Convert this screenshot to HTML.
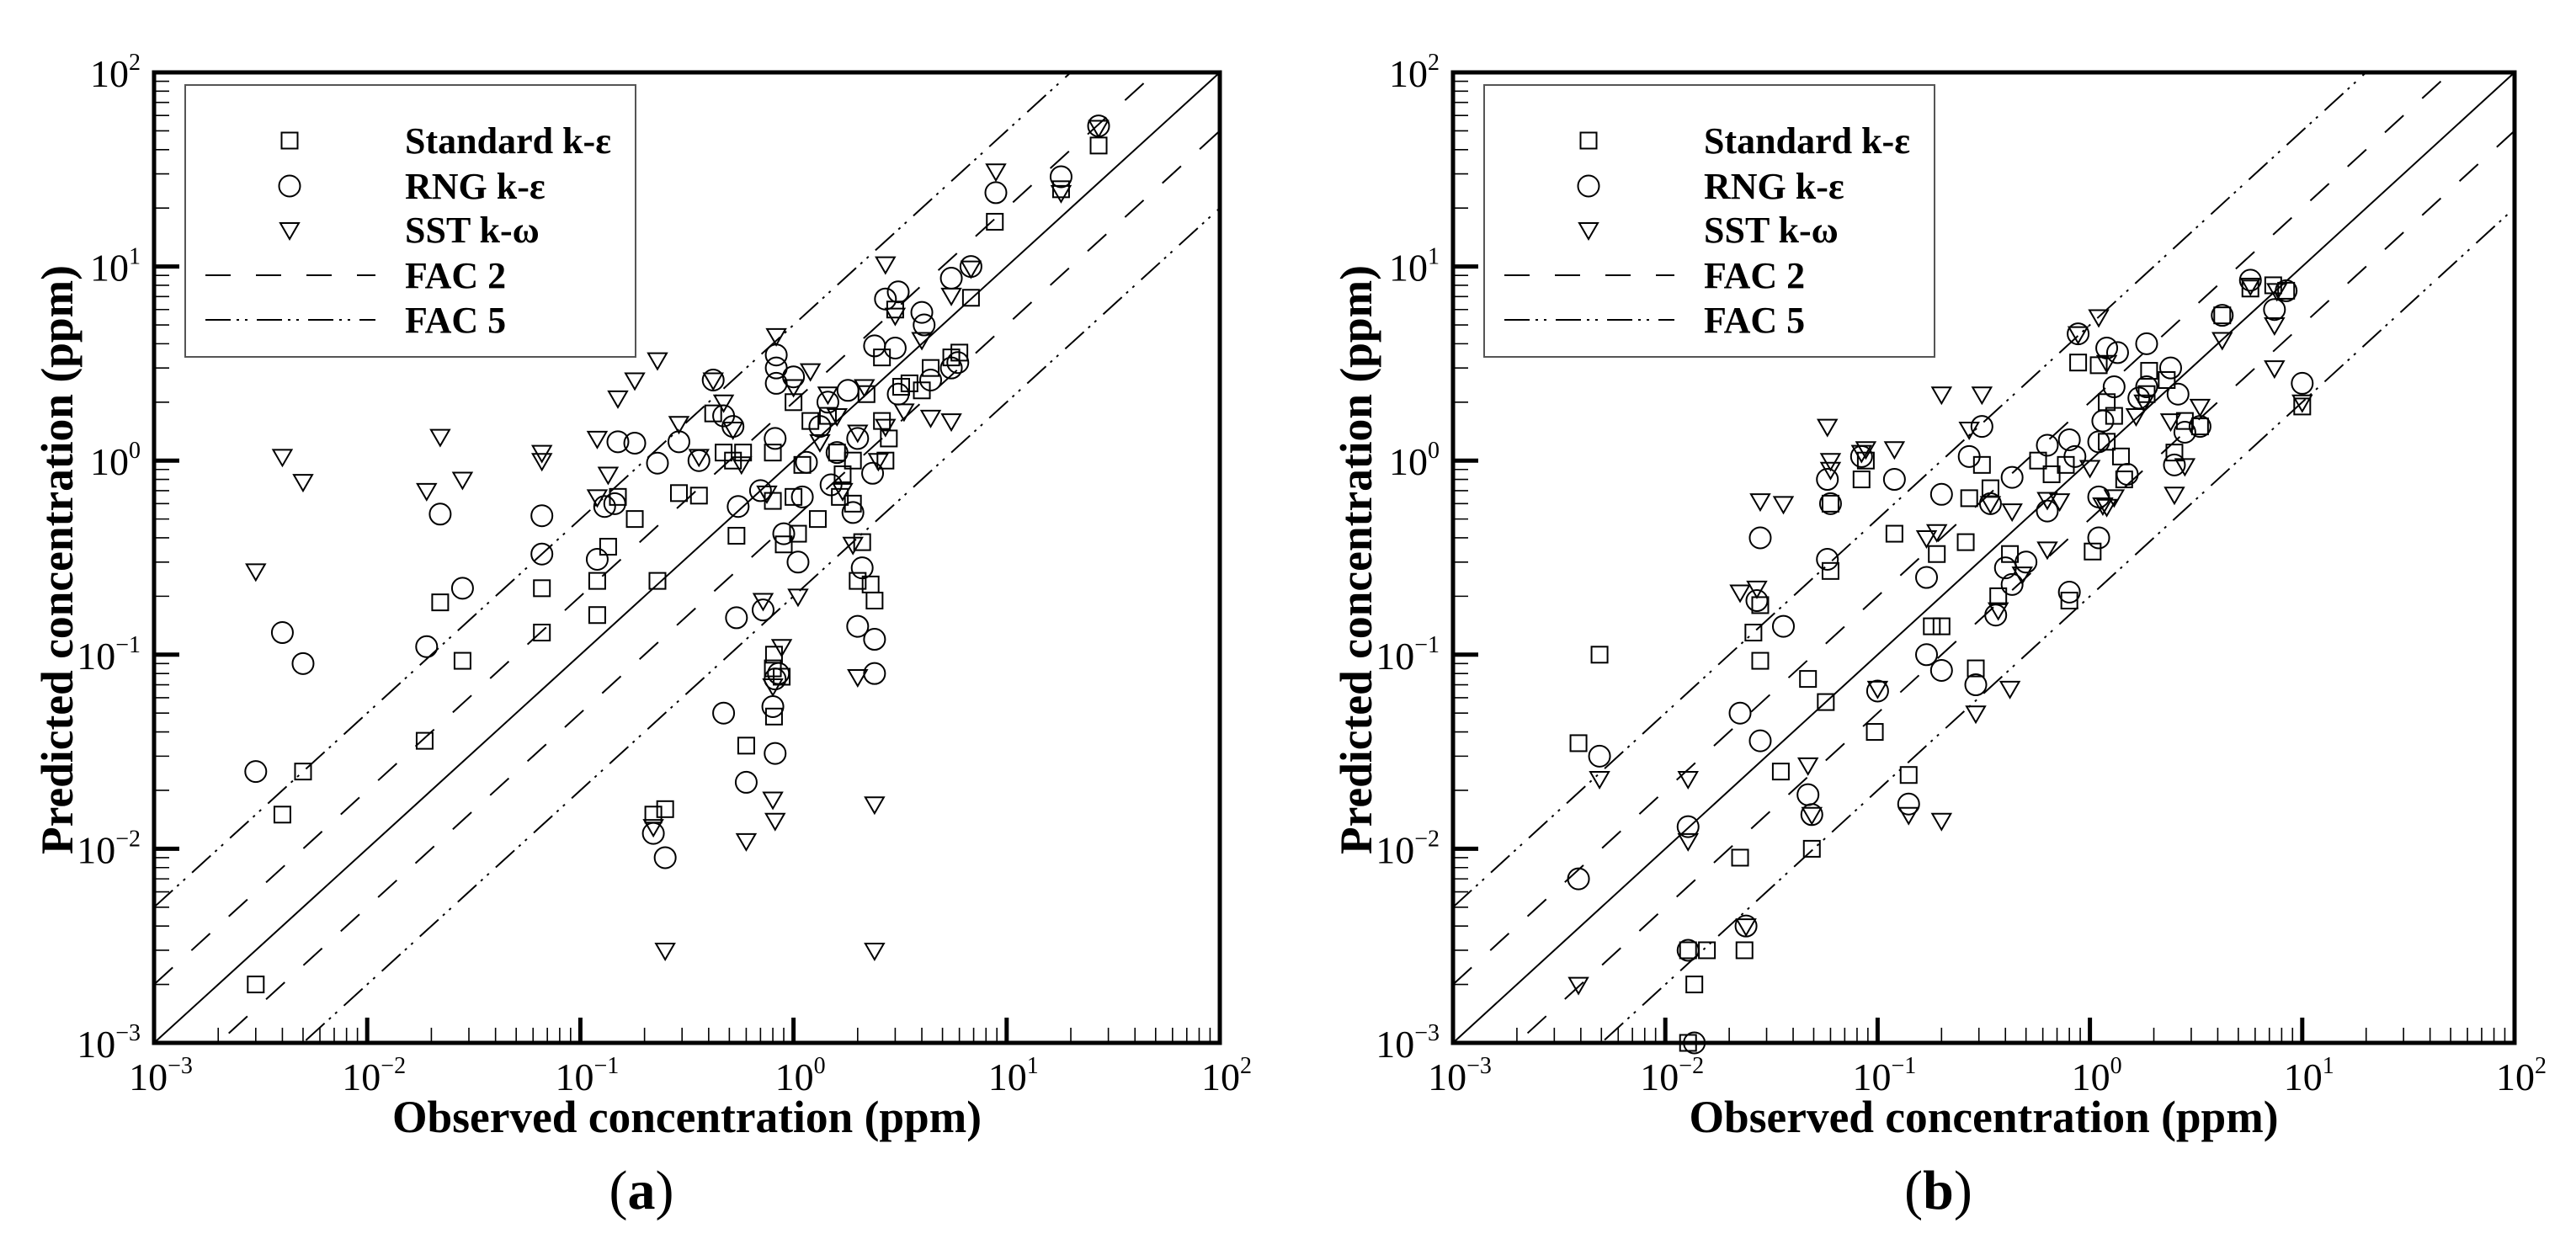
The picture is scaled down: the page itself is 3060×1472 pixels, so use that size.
<!DOCTYPE html>
<html>
<head>
<meta charset="utf-8">
<style>
html,body{margin:0;padding:0;background:#fff;}
svg{display:block;font-family:"Liberation Serif","Times New Roman",serif;}
svg text{font-family:"Liberation Serif","Times New Roman",serif;fill:#000;}
</style>
</head>
<body>
<svg id="fig" width="3060" height="1472" viewBox="0 0 3060 1472" xmlns="http://www.w3.org/2000/svg" font-family="Liberation Serif, Times New Roman, serif">
<rect x="0" y="0" width="3060" height="1472" fill="#fff"/>
</svg>
<script>
// ---- Panel (a) data ----
const aStdX = [0.003,0.004,0.005,0.0186,0.022,0.028,0.066,0.066,0.12,0.12,0.135,0.15,0.18,0.23,0.29,0.36,0.42,0.47,0.52,0.54,0.58,0.8,0.8,0.8,0.81,0.81,0.88,0.6,0.22,0.25,0.9,1.0,1.0,1.05,1.1,1.3,1.2,1.45,1.6,1.7,1.65,1.9,2.1,2.0,2.3,2.4,2.2,2.6,2.6,2.7,3.2,3.5,3.0,4.0,4.4,5.5,6.0,6.8,8.8,27,18,2.8,1.9];
const aStdY = [0.002,0.015,0.025,0.036,0.186,0.093,0.13,0.22,0.16,0.24,0.36,0.65,0.5,0.24,0.68,0.66,1.75,1.1,1.0,0.41,1.1,0.62,1.1,0.085,0.1,0.048,0.077,0.034,0.015,0.016,0.37,2.0,0.65,0.42,0.95,0.5,1.6,1.7,1.1,0.85,0.65,0.6,0.38,0.24,0.23,0.19,2.2,3.4,1.6,1.0,2.4,2.5,6.0,2.3,3.0,3.4,3.6,6.9,17,42,25,1.3,1.0];
const aRngX = [0.003,0.004,0.005,0.022,0.028,0.019,0.066,0.066,0.12,0.13,0.145,0.15,0.18,0.23,0.29,0.36,0.42,0.47,0.52,0.55,0.47,0.54,0.6,0.72,0.8,0.82,0.82,0.85,0.83,0.83,0.83,0.82,1.0,0.9,1.05,1.15,1.33,1.45,1.6,1.8,2.0,1.9,2.1,2.0,2.4,2.4,2.35,2.7,3.1,3.0,4.0,4.1,4.4,5.5,5.5,5.9,6.8,8.9,18,27,0.25,0.22,2.4,3.1,0.7,1.1,1.5];
const aRngY = [0.025,0.13,0.09,0.53,0.22,0.11,0.52,0.33,0.31,0.58,0.6,1.25,1.23,0.97,1.25,1.0,2.6,1.7,1.5,0.58,0.05,0.155,0.022,0.17,0.054,0.031,0.075,0.08,3.5,3.0,2.5,1.3,2.7,0.42,0.3,0.98,1.5,2.0,1.1,2.3,1.3,0.54,0.28,0.14,0.12,0.08,0.86,6.8,7.4,3.8,5.8,5.0,2.6,8.7,3.0,3.2,10,24,29,53,0.009,0.012,3.9,2.2,0.7,0.65,0.75];
const aSstX = [0.003,0.004,0.005,0.019,0.022,0.028,0.066,0.066,0.12,0.12,0.135,0.15,0.18,0.23,0.29,0.36,0.42,0.47,0.52,0.57,0.72,0.8,0.82,0.6,0.8,0.88,0.83,0.75,1.0,1.05,1.2,1.33,1.45,1.7,1.9,2.0,2.15,2.4,2.4,0.25,0.22,2.5,2.7,2.7,3.0,3.3,4.0,4.4,5.5,5.5,6.8,8.9,18,27,2.0,1.6];
const aSstY = [0.27,1.05,0.78,0.7,1.33,0.8,1.1,1.0,1.3,0.65,0.85,2.1,2.6,3.3,1.55,1.05,2.6,2.0,1.45,0.96,0.19,0.018,0.014,0.011,0.069,0.11,4.4,0.68,2.4,0.2,2.9,1.25,2.2,0.7,0.37,0.077,2.4,0.017,0.003,0.003,0.013,1.0,10.3,1.5,5.6,1.8,4.2,1.67,1.6,7.1,9.8,31,24,52,1.4,1.7];
// ---- Panel (b) data ----
const bStdX = [0.0039,0.0049,0.0128,0.0137,0.0157,0.0128,0.0225,0.0236,0.028,0.026,0.028,0.035,0.047,0.049,0.057,0.06,0.06,0.084,0.088,0.097,0.12,0.14,0.18,0.2,0.19,0.27,0.26,0.29,0.31,0.34,0.42,0.37,0.8,0.57,0.66,0.77,0.88,1.03,1.1,1.2,1.2,1.3,1.4,1.45,1.9,1.85,2.3,2.5,2.8,3.3,4.2,5.7,7.3,8.4,10];
const bStdY = [0.035,0.1,0.003,0.002,0.003,0.001,0.009,0.003,0.093,0.13,0.18,0.025,0.075,0.01,0.057,0.6,0.27,0.8,1.0,0.04,0.42,0.024,0.14,0.14,0.33,0.64,0.38,0.085,0.95,0.72,0.33,0.2,0.19,1.0,0.85,0.95,3.2,0.34,3.1,2.0,1.25,1.7,1.05,0.8,2.9,2.2,2.6,1.1,1.6,1.5,5.6,7.7,8.0,7.5,1.9];
const bRngX = [0.0039,0.0049,0.0128,0.0128,0.0137,0.0225,0.024,0.027,0.028,0.028,0.036,0.047,0.049,0.058,0.06,0.058,0.084,0.1,0.12,0.14,0.17,0.17,0.2,0.2,0.27,0.29,0.31,0.34,0.36,0.4,0.43,0.43,0.5,0.63,0.63,0.8,0.88,0.8,0.85,1.1,1.1,1.1,1.15,1.2,1.3,1.35,1.5,1.85,1.85,1.7,2.4,2.5,2.8,2.6,3.3,4.2,5.7,7.4,8.4,10];
const bRngY = [0.007,0.03,0.013,0.003,0.001,0.05,0.004,0.19,0.4,0.036,0.14,0.019,0.015,0.8,0.6,0.31,1.05,0.065,0.8,0.017,0.25,0.1,0.67,0.083,1.05,0.07,1.5,0.6,0.16,0.28,0.82,0.23,0.3,1.2,0.55,0.21,4.5,1.28,1.05,1.25,0.4,0.65,1.6,3.8,2.4,3.6,0.85,4.0,2.4,2.1,3.0,0.95,1.4,2.2,1.5,5.6,8.5,6.0,7.5,2.5];
const bSstX = [0.0039,0.0049,0.0128,0.0128,0.024,0.0225,0.027,0.028,0.036,0.047,0.049,0.058,0.06,0.06,0.084,0.088,0.1,0.12,0.14,0.17,0.19,0.2,0.2,0.27,0.29,0.31,0.34,0.37,0.42,0.43,0.48,0.63,0.63,0.72,0.88,1.0,1.1,1.2,1.15,1.3,1.65,1.8,2.4,2.5,2.8,3.3,4.2,5.7,7.4,7.4,7.6,10,1.2];
const bSstY = [0.002,0.023,0.023,0.011,0.004,0.21,0.22,0.62,0.6,0.027,0.015,1.5,1.0,0.9,1.1,1.15,0.067,1.15,0.015,0.4,0.43,2.2,0.014,1.45,0.05,2.2,0.6,0.17,0.067,0.55,0.26,0.35,0.63,0.62,4.5,0.92,5.5,3.2,0.59,0.65,1.7,2.0,1.6,0.67,0.94,1.9,4.2,8.0,3.0,5.0,7.5,2.0,0.58];
const xTickExps = [-3,-2,-1,0,1,2];
const yTickExps = [-3,-2,-1,0,1,2];
const factors = [1,2,0.5,5,0.2];
const legendLabels = ["Standard k-\u03b5","RNG  k-\u03b5","SST  k-\u03c9","FAC 2","FAC 5"];
const legendLabelsA = ["Standard k-\u03b5","RNG k-\u03b5","SST k-\u03c9","FAC 2","FAC 5"];

const NS = "http://www.w3.org/2000/svg";
const FF = "Liberation Serif, Times New Roman, serif";
const svg = document.getElementById("fig");
function mk(tag, attrs, parent){
  const e = document.createElementNS(NS, tag);
  for (const k in attrs) e.setAttribute(k, attrs[k]);
  if (tag === "text") e.setAttribute("font-family", FF);
  (parent||svg).appendChild(e);
  return e;
}
function supLabel(parent, x, y, exp, anchor){
  const t = mk("text", {x:x, y:y, "font-size":46, "text-anchor":anchor}, parent);
  const s1 = mk("tspan", {}, t); s1.textContent = "10";
  const s2 = mk("tspan", {dy:-20, "font-size":28}, t);
  s2.textContent = exp < 0 ? "\u2212" + (-exp) : String(exp);
  return t;
}
function marker(parent, type, cx, cy){
  let e;
  if (type === "sq") e = mk("rect", {x:cx-9.5, y:cy-9.5, width:19, height:19, fill:"none", stroke:"#000", "stroke-width":2}, parent);
  else if (type === "ci") e = mk("circle", {cx:cx, cy:cy, r:12.5, fill:"none", stroke:"#000", "stroke-width":2}, parent);
  else e = mk("polygon", {points:(cx-11)+","+(cy-8)+" "+(cx+11)+","+(cy-8)+" "+cx+","+(cy+11), fill:"none", stroke:"#000", "stroke-width":2}, parent);
  return e;
}
function panel(id, L, R, T, B, series, labels, tag){
  const g = mk("g", {});
  
  
  const xs = v => L + (Math.log10(v) + 3) / 5 * (R - L);
  const ys = v => B - (Math.log10(v) + 3) / 5 * (B - T);
  const defs = mk("defs", {}, g);
  const cp = mk("clipPath", {id:"clip"+id}, defs);
  mk("rect", {x:L, y:T, width:R-L, height:B-T}, cp);
  const lg = mk("g", {"clip-path":"url(#clip"+id+")"}, g);
  factors.forEach(f => {
    const dash = f === 1 ? "none" : (f === 2 || f === 0.5 ? "30 30" : "30 7 3 7 3 11");
    const ln = mk("line", {x1:xs(1e-3), y1:ys(1e-3*f), x2:xs(1e2), y2:ys(1e2*f), stroke:"#000", "stroke-width":2, "stroke-dasharray":dash}, lg);
    
    
  });
  const tg = mk("g", {}, g);
  
  
  for (let d = -3; d <= 1; d++) {
    for (let m = 1; m <= 9; m++) {
      const v = m * Math.pow(10, d);
      const major = m === 1;
      const len = major ? 30 : 18, w = major ? 5 : 1.6;
      mk("line", {x1:xs(v), y1:B, x2:xs(v), y2:B-len, stroke:"#000", "stroke-width":w}, tg);
      mk("line", {x1:L, y1:ys(v), x2:L+len, y2:ys(v), stroke:"#000", "stroke-width":w}, tg);
    }
  }
  const fr = mk("rect", {x:L, y:T, width:R-L, height:B-T, fill:"none", stroke:"#000", "stroke-width":5}, g);
  
  
  xTickExps.forEach(e => {
    const t = supLabel(g, xs(Math.pow(10,e)) + 8, 1295, e, "middle");
    
    
  });
  yTickExps.forEach(e => {
    const t = supLabel(g, L - 16, ys(Math.pow(10,e)) + 17, e, "end");
    
    
  });
  const types = ["sq","ci","tr"];
  const names = ["standard-k-epsilon","rng-k-epsilon","sst-k-omega"];
  series.forEach((s, i) => {
    const sg = mk("g", {}, g);
    
    
    const n = Math.min(s[0].length, s[1].length);
    for (let k = 0; k < n; k++) {
      const p = marker(sg, types[i], xs(s[0][k]), ys(s[1][k]));
      
      
    }
  });
  const LX = L + 37, LY = T + 15;
  const leg = mk("g", {}, g);
  
  
  mk("rect", {x:LX, y:LY, width:535, height:323, fill:"#fff", stroke:"#555", "stroke-width":2}, leg);
  const rows = [66, 120, 172, 226, 279];
  rows.forEach((ry, i) => {
    const cy = LY + ry;
    const ent = mk("g", {}, leg);
    
    
    if (i < 3) marker(ent, types[i], LX + 124, cy);
    else if (i === 3) mk("line", {x1:LX+24, y1:cy, x2:LX+226, y2:cy, stroke:"#000", "stroke-width":2, "stroke-dasharray":"30 30"}, ent);
    else mk("line", {x1:LX+24, y1:cy, x2:LX+226, y2:cy, stroke:"#000", "stroke-width":2, "stroke-dasharray":"30 7 3 7 3 11"}, ent);
    const t = mk("text", {x:LX+261, y:cy+15, "font-size":44, "font-weight":"bold"}, ent);
    t.textContent = labels[i];
  });
  const xt = mk("text", {x:(L+R)/2, y:1345, "font-size":54, "font-weight":"bold", "text-anchor":"middle", textLength:700, lengthAdjust:"spacingAndGlyphs"}, g);
  xt.textContent = "Observed concentration (ppm)";
  
  
  const ycx = L - 114, ycy = 665;
  const yt = mk("text", {x:ycx, y:ycy, "font-size":54, "font-weight":"bold", "text-anchor":"middle", textLength:700, lengthAdjust:"spacingAndGlyphs", transform:"rotate(-90 "+ycx+" "+ycy+") translate(0 17)"}, g);
  yt.textContent = "Predicted concentration (ppm)";
  
  
  const pl = mk("text", {x:(L+R)/2 - 54, y:1436, "font-size":66, "text-anchor":"middle"}, g);
  const p1 = mk("tspan", {}, pl); p1.textContent = "(";
  const p2 = mk("tspan", {"font-weight":"bold"}, pl); p2.textContent = tag;
  const p3 = mk("tspan", {}, pl); p3.textContent = ")";
  
  
}
panel("a", 183, 1449, 86, 1239, [[aStdX,aStdY],[aRngX,aRngY],[aSstX,aSstY]], legendLabelsA, "a");
panel("b", 1726, 2987, 86, 1239, [[bStdX,bStdY],[bRngX,bRngY],[bSstX,bSstY]], legendLabels, "b");
</script>
</body>
</html>
